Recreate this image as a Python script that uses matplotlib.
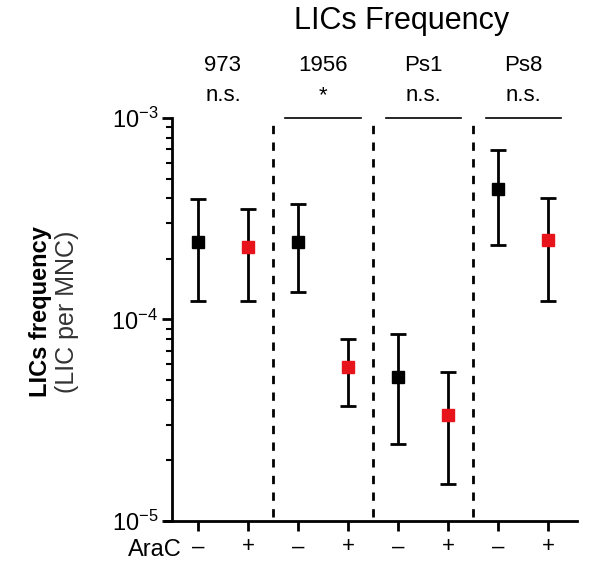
import numpy as np
import matplotlib
matplotlib.use('Agg')
import matplotlib.pyplot as plt
from matplotlib import font_manager

# data
groups = ['973', '1956', 'Ps1', 'Ps8']
signif = ['n.s.', '*', 'n.s.', 'n.s.']
arac = ['\u2013', '+', '\u2013', '+', '\u2013', '+', '\u2013', '+']
freq = [2.43e-4, 2.29e-4, 2.43e-4, 5.8e-5, 5.2e-5, 3.35e-5, 4.45e-4, 2.47e-4]
upper = [3.97e-4, 3.53e-4, 3.74e-4, 8.0e-5, 8.5e-5, 5.5e-5, 6.95e-4, 3.99e-4]
lower = [1.24e-4, 1.24e-4, 1.37e-4, 3.73e-5, 2.42e-5, 1.52e-5, 2.33e-4, 1.24e-4]
ytick_vals = [1e-5, 1e-4, 1e-3]
ytick_text = ['$\\mathregular{10^{\u22125}}$', '$\\mathregular{10^{\u22124}}$',
              '$\\mathregular{10^{\u22123}}$']

names = {f.name for f in font_manager.fontManager.ttflist}
narrow = 'Liberation Sans Narrow' if 'Liberation Sans Narrow' in names else 'Liberation Sans'
plt.rcParams['font.family'] = ['Liberation Sans', 'DejaVu Sans']
plt.rcParams['mathtext.fontset'] = 'custom'
plt.rcParams['mathtext.rm'] = narrow
plt.rcParams['mathtext.it'] = narrow
plt.rcParams['mathtext.bf'] = narrow

fig = plt.figure(figsize=(5.9, 5.62), dpi=100)
ax = fig.add_axes([0.2915, 0.073, 0.6865, 0.717])

x = np.arange(len(freq))
freq = np.array(freq)
yerr = [freq - np.array(lower), np.array(upper) - freq]
colors = ['black' if i % 2 == 0 else '#e8141c' for i in x]

ax.errorbar(x, freq, yerr=yerr, fmt='none', ecolor='black', elinewidth=2,
            capsize=6, capthick=2, zorder=2)
for xi, yi, c in zip(x, freq, colors):
    ax.plot(xi, yi, 's', color=c, markersize=8, zorder=3)

ax.set_yscale('log')
ax.set_ylim(1e-5, 1e-3)
ax.set_xlim(-0.52, 7.58)

# dashed separators between groups
for sep in [1.5, 3.5, 5.5]:
    ax.plot([sep, sep], [1.05e-5, 1e-3], ls=(0, (3, 3)), color='black', lw=2, zorder=1)

# significance brackets and group labels
for i, (g, s) in enumerate(zip(groups, signif)):
    cx = 2 * i + 0.5
    if i > 0:
        ax.plot([cx - 0.75, cx + 0.75], [1e-3, 1e-3], color='black', lw=1.2,
                clip_on=False)
    ax.text(cx, 1e-3 * 10 ** 0.263, g, ha='center', va='center',
            fontsize=16, family=narrow)
    ax.text(cx, 1e-3 * 10 ** 0.11, s, ha='center', va='center',
            fontsize=16, family=narrow)

ax.spines['top'].set_visible(False)
ax.spines['right'].set_visible(False)
ax.spines['left'].set_linewidth(2)
ax.spines['bottom'].set_linewidth(2)
ax.spines['bottom'].set_bounds(-0.66, 7.58)

ax.set_yticks(ytick_vals)
ax.set_yticklabels(ytick_text, fontsize=17)
ax.tick_params(axis='y', which='major', length=7, width=2, direction='out', pad=3)
ax.tick_params(axis='y', which='minor', length=4, width=1.5, direction='out')
ax.set_xticks(x)
ax.set_xticklabels(arac, fontsize=16)
ax.tick_params(axis='x', length=7, width=2, direction='out', pad=4)

ax.text(-0.32, -0.072, 'AraC', transform=ax.get_xaxis_transform(), ha='right',
        va='center', fontsize=17, family=narrow)

fig.text(0.068, 0.445, 'LICs frequency', rotation=90, ha='center', va='center',
         fontsize=17, fontweight='bold')
fig.text(0.113, 0.445, '(LIC per MNC)', rotation=90, ha='center', va='center',
         fontsize=18, color='#333333')

fig.text(0.681, 0.963, 'LICs Frequency', ha='center', va='center', fontsize=22)

fig.savefig('out.png', dpi=100)
